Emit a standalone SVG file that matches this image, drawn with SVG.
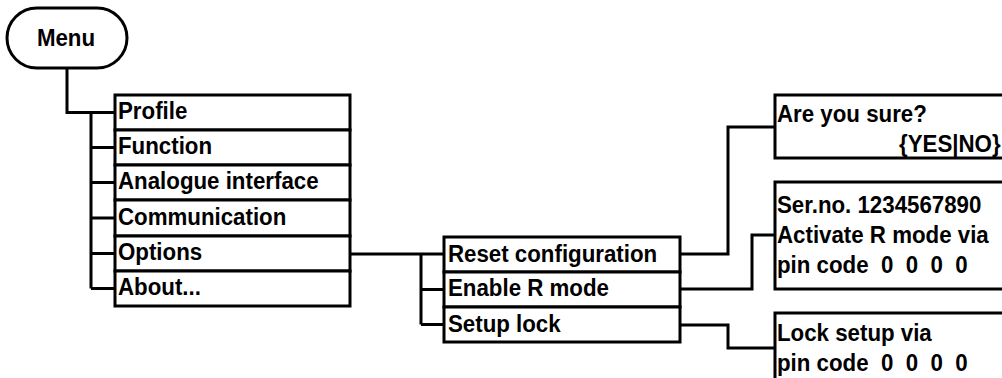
<svg xmlns="http://www.w3.org/2000/svg" width="1002" height="378" viewBox="0 0 1002 378">
<style>
.b{fill:#fff;stroke:#000;stroke-width:3}
.t{font-family:"Liberation Sans",Arial,sans-serif;font-weight:bold;font-size:24.5px;fill:#000}
.c{fill:none;stroke:#000;stroke-width:3;stroke-linejoin:miter}
</style>
<rect width="1002" height="378" fill="#fff"/>
<g id="connectors">
<path class="c" d="M67,68 V112.5 H115"/>
<path class="c" d="M91,112.5 V288.5 M91,147.5 H115 M91,182.5 H115 M91,218 H115 M91,253.5 H115 M91,288.5 H115"/>
<path class="c" d="M350,254 H444"/>
<path class="c" d="M421,254 V324.5 M421,289.5 H444 M421,324.5 H444"/>
<path class="c" d="M680,254 H728 V127 H775"/>
<path class="c" d="M680,289 H752 V235 H775"/>
<path class="c" d="M680,325 H728 V348 H775"/>
</g>
<g id="menu">
<rect class="b" x="7" y="8" width="120" height="60" rx="30" ry="30"/>
<text class="t" transform="matrix(0.91,0,0,1,66,46)" text-anchor="middle">Menu</text>
</g>
<g id="profile"><rect class="b" x="115" y="95" width="235" height="35"/><text class="t" transform="matrix(0.91,0,0,1,118,119)">Profile</text></g>
<g id="function"><rect class="b" x="115" y="130" width="235" height="35"/><text class="t" transform="matrix(0.91,0,0,1,118,154)">Function</text></g>
<g id="analogue"><rect class="b" x="115" y="165" width="235" height="35"/><text class="t" transform="matrix(0.91,0,0,1,118,189)">Analogue interface</text></g>
<g id="communication"><rect class="b" x="115" y="200" width="235" height="36"/><text class="t" transform="matrix(0.91,0,0,1,118,224.5)">Communication</text></g>
<g id="options"><rect class="b" x="115" y="236" width="235" height="35"/><text class="t" transform="matrix(0.91,0,0,1,118,260)">Options</text></g>
<g id="about"><rect class="b" x="115" y="271" width="235" height="35"/><text class="t" transform="matrix(0.91,0,0,1,118,295)">About...</text></g>
<g id="reset"><rect class="b" x="444" y="237" width="236" height="35"/><text class="t" transform="matrix(0.91,0,0,1,448,261.5)">Reset configuration</text></g>
<g id="enable"><rect class="b" x="444" y="272" width="236" height="35"/><text class="t" transform="matrix(0.91,0,0,1,448,296)">Enable R mode</text></g>
<g id="setuplock"><rect class="b" x="444" y="307" width="236" height="35"/><text class="t" transform="matrix(0.91,0,0,1,448,331.5)">Setup lock</text></g>
<g id="confirm"><rect class="b" x="775" y="95" width="240" height="63"/>
<text class="t" transform="matrix(0.91,0,0,1,777,121.5)">Are you sure?</text>
<text class="t" transform="matrix(0.91,0,0,1,899,151.5)">{YES|NO}</text></g>
<g id="rmode"><rect class="b" x="775" y="182" width="240" height="107"/>
<text class="t" transform="matrix(0.91,0,0,1,777,212.5)">Ser.no. 1234567890</text>
<text class="t" transform="matrix(0.91,0,0,1,777,242.5)">Activate R mode via</text>
<text class="t" transform="matrix(0.91,0,0,1,777,272.5)" xml:space="preserve">pin code  0  0  0  0</text></g>
<g id="lock"><rect class="b" x="775" y="313" width="240" height="80"/>
<text class="t" transform="matrix(0.91,0,0,1,777,340.5)">Lock setup via</text>
<text class="t" transform="matrix(0.91,0,0,1,777,370.5)" xml:space="preserve">pin code  0  0  0  0</text></g>
</svg>
